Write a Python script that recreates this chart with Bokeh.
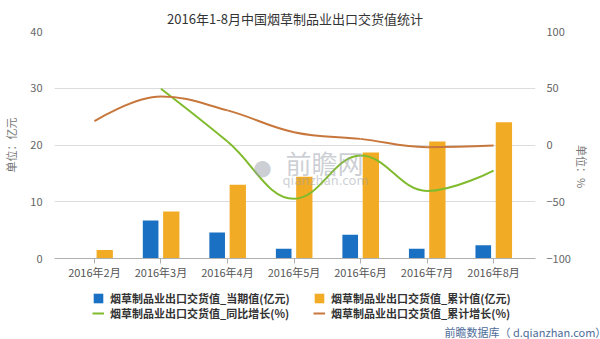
import math
from bokeh.plotting import figure
from bokeh.layouts import column
from bokeh.models import (ColumnDataSource, Range1d, LinearAxis, FixedTicker, Legend,
                          LegendItem, Label, Title)
from bokeh.transform import dodge
from bokeh.embed import file_html
from bokeh.resources import INLINE
import numpy as np

# ---- data ----
months = ["2016年2月", "2016年3月", "2016年4月", "2016年5月", "2016年6月", "2016年7月", "2016年8月"]
current_value = [None, 6.7, 4.6, 1.7, 4.2, 1.7, 2.35]      # 当期值(亿元)
cumulative_value = [1.5, 8.3, 13.0, 14.4, 18.7, 20.6, 24.0]  # 累计值(亿元)
yoy_growth = [None, 49.5, 3.0, -47.4, -9.3, -40.5, -22.5]    # 同比增长(%)
cum_growth = [21.0, 42.7, 30.5, 11.3, 5.4, -1.9, -0.4]      # 累计增长(%)
left_ticks = [0, 10, 20, 30, 40]
right_ticks = [-100, -50, 0, 50, 100]

names = ["烟草制品业出口交货值_当期值(亿元)", "烟草制品业出口交货值_累计值(亿元)",
         "烟草制品业出口交货值_同比增长(%)", "烟草制品业出口交货值_累计增长(%)"]

FONT = "Noto Sans CJK SC"
BLUE = "#1a70c2"
ORANGE = "#f2ab24"
GREEN = "#80bb2e"
BROWN = "#c8773c"

idx = list(range(len(months)))
src = ColumnDataSource(dict(
    x=idx,
    cur=[np.nan if v is None else v for v in current_value],
    cum=cumulative_value,
))

p = figure(width=600, height=290, output_backend="svg", toolbar_location=None,
           x_range=Range1d(-0.6, 6.63), y_range=Range1d(0, 40),
           min_border_left=48, min_border_right=53, min_border_top=31, min_border_bottom=32)
p.outline_line_color = None
p.background_fill_color = "white"
p.border_fill_color = "white"
p.extra_y_ranges = {"pct": Range1d(-100, 100)}

# title
p.title.text = "2016年1-8月中国烟草制品业出口交货值统计"
p.title.align = "center"
p.title.offset = -10
p.title.text_font = FONT
p.title.text_font_size = "13px"
p.title.text_font_style = "normal"
p.title.text_color = "#333333"
p.title.standoff = 8

# axes
xa = p.xaxis[0]
xa.ticker = FixedTicker(ticks=idx)
xa.major_label_overrides = {i: m for i, m in enumerate(months)}
xa.minor_tick_line_color = None
xa.major_tick_in = 0
xa.major_tick_out = 5
xa.major_tick_line_color = "#b0b0b0"
xa.axis_line_color = "#b0b0b0"
xa.major_label_text_font = FONT
xa.major_label_text_font_size = "11px"
xa.major_label_text_color = "#555555"
xa.major_label_standoff = 0

ya = p.yaxis[0]
ya.ticker = FixedTicker(ticks=left_ticks)
ya.axis_line_color = None
ya.major_tick_line_color = None
ya.minor_tick_line_color = None
ya.major_label_standoff = 6
ya.major_label_text_font = FONT
ya.major_label_text_font_size = "11px"
ya.major_label_text_color = "#666666"
ya.axis_label = "单位：亿元"
ya.axis_label_text_font = FONT
ya.axis_label_text_font_size = "11px"
ya.axis_label_text_font_style = "normal"
ya.axis_label_text_color = "#777777"
ya.axis_label_standoff = 8

ra = LinearAxis(y_range_name="pct", ticker=FixedTicker(ticks=right_ticks))
ra.axis_line_color = None
ra.major_tick_line_color = None
ra.minor_tick_line_color = None
ra.major_label_standoff = 5
ra.major_label_text_font = FONT
ra.major_label_text_font_size = "11px"
ra.major_label_text_color = "#666666"
ra.axis_label = "单位：%"
ra.axis_label_orientation = -math.pi / 2
ra.axis_label_text_font = FONT
ra.axis_label_text_font_size = "11px"
ra.axis_label_text_font_style = "normal"
ra.axis_label_text_color = "#777777"
ra.axis_label_standoff = 8
p.add_layout(ra, "right")

p.xgrid.grid_line_color = None
p.ygrid.grid_line_color = "#dcdcdc"
p.ygrid.ticker = FixedTicker(ticks=left_ticks)

# bars
p.vbar(x=dodge("x", -0.155, range=p.x_range), top="cur", width=0.235, bottom=0,
       source=src, color=BLUE, line_color=None)
p.vbar(x=dodge("x", 0.155, range=p.x_range), top="cum", width=0.245, bottom=0,
       source=src, color=ORANGE, line_color=None)


# smooth lines (Highcharts-style spline control points)
def spline_segments(xs, ys):
    pts = [(x, y) for x, y in zip(xs, ys) if y is not None]
    n = len(pts)
    sm, den = 1.5, 2.5
    lc = [None] * n
    rc = [None] * n
    for i in range(n):
        x, y = pts[i]
        if 0 < i < n - 1:
            lx, ly = pts[i - 1]
            nx, ny = pts[i + 1]
            lcx = (sm * x + lx) / den
            lcy = (sm * y + ly) / den
            rcx = (sm * x + nx) / den
            rcy = (sm * y + ny) / den
            corr = ((rcy - lcy) * (rcx - x)) / (rcx - lcx) + y - rcy
            lcy += corr
            rcy += corr
            if lcy > ly and lcy > y:
                lcy = max(ly, y); rcy = 2 * y - lcy
            elif lcy < ly and lcy < y:
                lcy = min(ly, y); rcy = 2 * y - lcy
            if rcy > ny and rcy > y:
                rcy = max(ny, y); lcy = 2 * y - rcy
            elif rcy < ny and rcy < y:
                rcy = min(ny, y); lcy = 2 * y - rcy
            lc[i] = (lcx, lcy)
            rc[i] = (rcx, rcy)
        else:
            lc[i] = (x, y)
            rc[i] = (x, y)
    d = dict(x0=[], y0=[], x1=[], y1=[], cx0=[], cy0=[], cx1=[], cy1=[])
    for i in range(1, n):
        d["x0"].append(pts[i - 1][0]); d["y0"].append(pts[i - 1][1])
        d["x1"].append(pts[i][0]); d["y1"].append(pts[i][1])
        d["cx0"].append(rc[i - 1][0]); d["cy0"].append(rc[i - 1][1])
        d["cx1"].append(lc[i][0]); d["cy1"].append(lc[i][1])
    return ColumnDataSource(d)


BZ = dict(x0="x0", y0="y0", x1="x1", y1="y1", cx0="cx0", cy0="cy0", cx1="cx1", cy1="cy1")
p.bezier(**BZ, source=spline_segments(idx, yoy_growth), line_color=GREEN, line_width=2,
         y_range_name="pct")
p.bezier(**BZ, source=spline_segments(idx, cum_growth), line_color=BROWN, line_width=2,
         y_range_name="pct")

# watermark
WM = "#9aa0aa"
p.add_layout(Label(x=208, y=92, x_units="screen", y_units="screen", text="●",
                   text_font_size="38px", text_color=WM, text_alpha=0.5,
                   text_align="center", text_baseline="middle", level="overlay"))
p.add_layout(Label(x=270, y=96, x_units="screen", y_units="screen", text="前瞻网",
                   text_font=FONT, text_font_size="26px", text_color=WM, text_alpha=0.5,
                   text_align="center", text_baseline="middle", level="overlay"))
p.add_layout(Label(x=271, y=79, x_units="screen", y_units="screen", text="qianzhan.com",
                   text_font=FONT, text_font_size="13px", text_color=WM, text_alpha=0.5,
                   text_align="center", text_baseline="middle", level="overlay"))

# ---- legend strip (second figure; legend proxies hold a single NaN row, draw nothing) ----
q = figure(width=600, height=49, output_backend="svg", toolbar_location=None,
           x_axis_location=None, y_axis_location=None,
           x_range=Range1d(0, 1), y_range=Range1d(0, 1),
           min_border=0, min_border_left=0, min_border_right=0,
           min_border_top=0, min_border_bottom=0)
q.grid.visible = False
q.outline_line_color = None
q.border_fill_color = "white"
q.background_fill_color = "white"

nan_bar = ColumnDataSource(dict(x=[np.nan], top=[np.nan]))
nan_bz = ColumnDataSource({k: [np.nan] for k in BZ})
g_cur = q.vbar(x="x", top="top", width=0.1, source=nan_bar, color=BLUE, line_color=None)
g_cum = q.vbar(x="x", top="top", width=0.1, source=nan_bar, color=ORANGE, line_color=None)
g_yoy = q.bezier(**BZ, source=nan_bz, line_color=GREEN, line_width=2)
g_cg = q.bezier(**BZ, source=nan_bz, line_color=BROWN, line_width=2)


def make_legend(items, loc):
    return Legend(items=items, location=loc, orientation="horizontal",
                  padding=0, margin=0, spacing=7, glyph_width=12, glyph_height=12,
                  label_standoff=6, label_width=196, label_height=12,
                  label_text_font=FONT, label_text_font_size="11px",
                  label_text_font_style="bold", label_text_color="#333333",
                  border_line_color=None, background_fill_alpha=0)


q.add_layout(make_legend([LegendItem(label=names[0], renderers=[g_cur]),
                          LegendItem(label=names[1], renderers=[g_cum])], (38, 15)))
q.add_layout(make_legend([LegendItem(label=names[2], renderers=[g_yoy]),
                          LegendItem(label=names[3], renderers=[g_cg])], (38, 0)))
q.add_layout(Title(text="前瞻数据库（ d.qianzhan.com）", align="left", offset=390,
                   text_font=FONT, text_font_size="11px", text_font_style="normal",
                   text_color="#4d6d9a", standoff=0), "below")

layout = column(p, q, spacing=0)
open("out.html", "w").write(file_html(layout, INLINE))
